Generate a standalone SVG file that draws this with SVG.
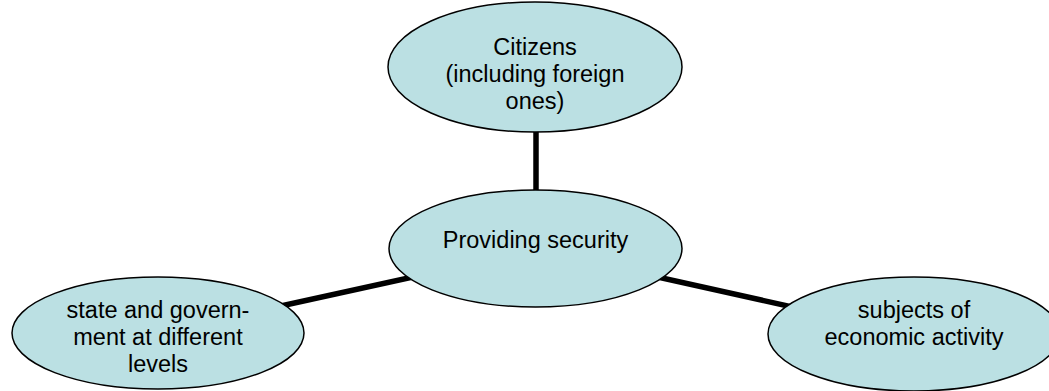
<svg xmlns="http://www.w3.org/2000/svg" width="1049" height="391" viewBox="0 0 1049 391">
<style>
.node ellipse{fill:#BBE0E3;stroke:#000;stroke-width:1.5}
.node text{font-family:"Liberation Sans",Arial,sans-serif;font-size:23.5px;fill:#000;text-anchor:middle}
.conn line{stroke:#000;stroke-width:5.5}
</style>
<rect width="1049" height="391" fill="#fff"/>
<g id="connectors" class="conn">
<line x1="536" y1="67" x2="536" y2="249"/>
<line x1="158" y1="333" x2="536" y2="250"/>
<line x1="536" y1="250" x2="914" y2="334"/>
</g>
<g id="citizens" class="node">
<ellipse cx="535" cy="67" rx="147" ry="65"/>
<text x="535" y="55">Citizens</text>
<text x="535" y="82">(including foreign</text>
<text x="535" y="109">ones)</text>
</g>
<g id="security" class="node">
<ellipse cx="535.5" cy="248.5" rx="146.5" ry="58.5"/>
<text x="535.5" y="248">Providing security</text>
</g>
<g id="state" class="node">
<ellipse cx="158" cy="333" rx="146" ry="56"/>
<text x="158" y="318">state and govern-</text>
<text x="158" y="345">ment at different</text>
<text x="158" y="372">levels</text>
</g>
<g id="subjects" class="node">
<ellipse cx="914" cy="334" rx="146" ry="57"/>
<text x="914" y="318">subjects of</text>
<text x="914" y="345">economic activity</text>
</g>
</svg>
